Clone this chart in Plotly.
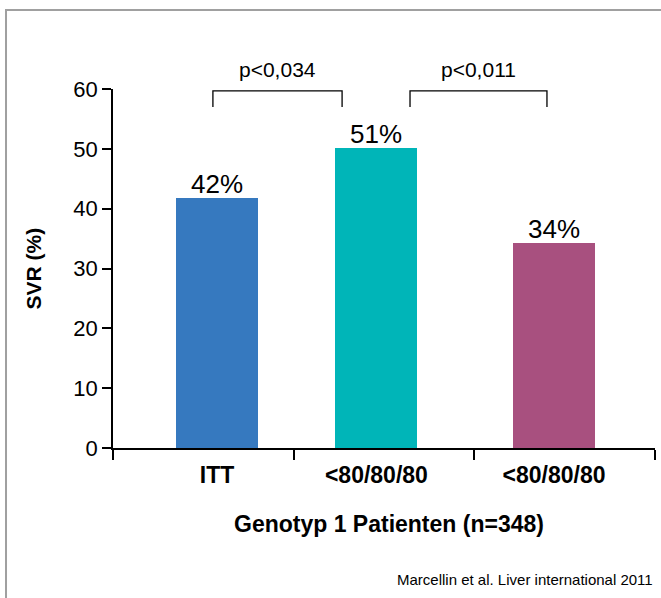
import plotly.graph_objects as go

categories = ["ITT", "<80/80/80", "<80/80/80"]
svr_values = [41.8, 50.1, 34.2]
value_labels = ["42%", "51%", "34%"]
bar_colors = ["#3679BF", "#00B5B8", "#A8507F"]
p_labels = ["p<0,034", "p<0,011"]
y_ticks = [0, 10, 20, 30, 40, 50, 60]

# layout positions (axis units)
bar_x = [0.576, 1.458, 2.441]
bracket_x = [(0.553, 1.268), (1.644, 2.402)]
bracket_top, bracket_bottom = 59.67, 57.0

FONT = "Arial, Liberation Sans, sans-serif"

fig = go.Figure()
fig.add_trace(go.Bar(
    x=bar_x, y=svr_values, width=0.454,
    marker=dict(color=bar_colors, line=dict(width=0)),
    hoverinfo="skip", showlegend=False,
))

shapes = []
for (xa, xb) in bracket_x:
    shapes.append(dict(type="path", xref="x", yref="y",
                       path=f"M {xa},{bracket_bottom} L {xa},{bracket_top} L {xb},{bracket_top} L {xb},{bracket_bottom}",
                       line=dict(color="black", width=1.3)))
# outer frame
shapes.append(dict(type="rect", xref="paper", yref="paper",
                   x0=-0.1974, x1=1.2, y0=-0.6, y1=1.220,
                   line=dict(color="#A0A0A0", width=2), fillcolor="rgba(0,0,0,0)", layer="below"))

annotations = []
for xv, yv, lab in zip(bar_x, svr_values, value_labels):
    annotations.append(dict(x=xv, y=yv, xref="x", yref="y", text=lab, showarrow=False,
                            font=dict(size=26, color="black", family=FONT),
                            xanchor="center", yanchor="bottom", yshift=-3))
for (xa, xb), lab in zip(bracket_x, p_labels):
    annotations.append(dict(x=(xa + xb) / 2, y=1.0557, xref="x", yref="paper", text=lab,
                            showarrow=False, font=dict(size=21, color="black", family=FONT),
                            xanchor="center", yanchor="middle"))
annotations.append(dict(x=0.51, y=-0.2117, xref="paper", yref="paper",
                        text="<b>Genotyp 1 Patienten (n=348)</b>", showarrow=False,
                        font=dict(size=23, color="black", family=FONT),
                        xanchor="center", yanchor="middle"))
annotations.append(dict(x=-0.1476, y=0.5, xref="paper", yref="paper",
                        text="<b>SVR (%)</b>", showarrow=False, textangle=-90,
                        font=dict(size=21, color="black", family=FONT),
                        xanchor="center", yanchor="middle"))
annotations.append(dict(x=1.0, y=-0.365, xref="paper", yref="paper",
                        text="Marcellin et al. Liver international 2011", showarrow=False,
                        font=dict(size=15, color="black", family=FONT),
                        xanchor="right", yanchor="middle"))

fig.update_layout(
    width=661, height=598,
    margin=dict(l=113, r=6, t=89, b=150, autoexpand=False),
    paper_bgcolor="white", plot_bgcolor="white",
    font=dict(family=FONT, color="black"),
    shapes=shapes, annotations=annotations,
    xaxis=dict(range=[0, 3], tickmode="array", tickvals=bar_x,
               ticktext=[f"<b>{c}</b>" for c in categories],
               tickfont=dict(size=23, color="black", family=FONT),
               ticks="", showgrid=False, zeroline=False,
               showline=True, linecolor="black", linewidth=1.5,
               ticklabelstandoff=6,
               minor=dict(tickmode="array", tickvals=[0, 1, 2, 3], ticks="outside",
                          ticklen=10, tickwidth=1.5, tickcolor="black", showgrid=False),
               fixedrange=True),
    yaxis=dict(range=[0, 60], tickmode="array", tickvals=y_ticks,
               tickfont=dict(size=22, color="black", family=FONT),
               ticks="outside", ticklen=9, tickwidth=1.5, tickcolor="black",
               showgrid=False, zeroline=False,
               showline=True, linecolor="black", linewidth=1.5,
               fixedrange=True),
    bargap=0,
)

fig.write_html("out.html", config={"displayModeBar": False},
               post_script="document.body.style.margin='0';")
